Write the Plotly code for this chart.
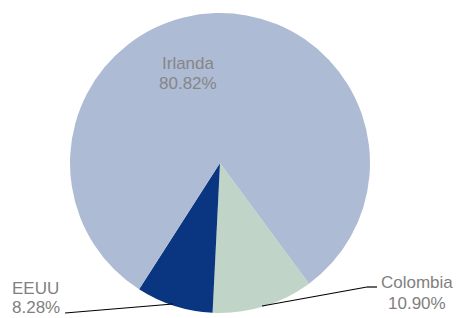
import plotly.graph_objects as go

labels = ["Colombia", "EEUU", "Irlanda"]
values = [10.90, 8.28, 80.82]
colors = ["#C0D5C8", "#0A3580", "#AEBBD5"]

W, H = 458, 318
def px(x): return x / W
def py(y): return 1 - y / H

fig = go.Figure(go.Pie(
    labels=labels, values=values, sort=False, direction="clockwise",
    rotation=143.6, textinfo="none", hoverinfo="label+percent",
    marker=dict(colors=colors, line=dict(width=0)),
    domain=dict(x=[px(70), px(370)], y=[py(313), py(13)]),
    showlegend=False,
))

font = dict(family="Arial, Liberation Sans, sans-serif", size=17, color="#7F7F7F")
pct = {l: f"{v:.2f}%" for l, v in zip(labels, values)}
common = dict(xref="paper", yref="paper", showarrow=False, yanchor="middle", borderpad=0)

# label positions (x, y of first line, y of second line, anchor)
label_pos = {
    "Irlanda": (188, 63, 83, "center"),
    "EEUU": (11, 288, 307, "left"),
    "Colombia": (417, 282, 303, "center"),
}
for name, (x, y1, y2, anc) in label_pos.items():
    f = dict(font, color="#868686") if name == "Irlanda" else font
    fig.add_annotation(x=px(x), y=py(y1), xanchor=anc, text=name, font=f, **common)
    fig.add_annotation(x=px(x), y=py(y2), xanchor=anc, text=pct[name], font=f, **common)

line = dict(color="black", width=1.2)
fig.add_shape(type="line", xref="paper", yref="paper", x0=px(65), y0=py(313), x1=px(173), y1=py(304), line=line)
fig.add_shape(type="line", xref="paper", yref="paper", x0=px(262), y0=py(306), x1=px(367), y1=py(287), line=line)
fig.add_shape(type="line", xref="paper", yref="paper", x0=px(367), y0=py(287), x1=px(377), y1=py(287), line=line)

fig.update_layout(width=W, height=H, margin=dict(l=0, r=0, t=0, b=0),
                  paper_bgcolor="white", plot_bgcolor="white")
fig.write_html("out.html", config={"displayModeBar": False},
               post_script="document.body.style.margin='0';document.body.style.overflow='hidden';")
